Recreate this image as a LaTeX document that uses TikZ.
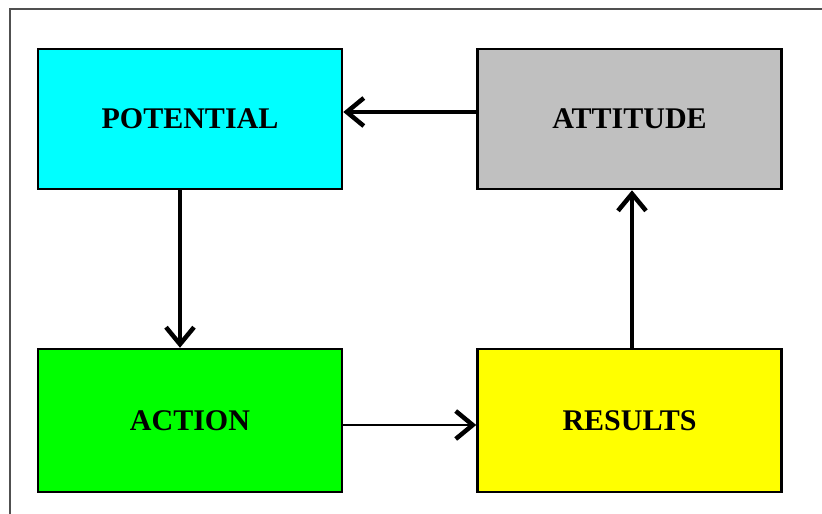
\documentclass[tikz,border=0pt]{standalone}
\usepackage{fontspec}
\setmainfont{Liberation Serif}
\usetikzlibrary{arrows.meta}
\definecolor{potcol}{HTML}{00FFFF}
\definecolor{attcol}{HTML}{C0C0C0}
\definecolor{actcol}{HTML}{00FF00}
\definecolor{rescol}{HTML}{FFFF00}
\definecolor{framecol}{HTML}{505050}
\tikzset{
  stagebox/.style={draw=black, line width=2.5pt, rectangle, minimum width=304pt,
    inner sep=0pt, font=\fontsize{30}{36}\selectfont\bfseries},
  flow/.style={line width=3.2pt, -{Straight Barb[length=17pt,width=28pt,line width=4.5pt]}},
  thinflow/.style={line width=2.2pt, -{Straight Barb[length=17pt,width=28pt,line width=4.5pt]}}
}
\begin{document}
\begin{tikzpicture}[x=1pt,y=-1pt]
\useasboundingbox[fill=white] (0,0) rectangle (822,514);
% outer frame, open to the right and bottom
\draw[framecol, line width=1.3pt] (10,530) -- (10,9) -- (840,9);
% the four stages
\node[stagebox, fill=potcol, minimum height=140pt] (pot) at (190,119) {POTENTIAL};
\node[stagebox, fill=attcol, minimum height=140pt] (att) at (629.5,119) {ATTITUDE};
\node[stagebox, fill=actcol, minimum height=143pt] (act) at (190,420.5) {ACTION};
\node[stagebox, fill=rescol, minimum height=143pt] (res) at (629.5,420.5) {RESULTS};
% connector heights / columns
\coordinate (toprow) at (0,112);
\coordinate (botrow) at (0,425);
\coordinate (leftcol) at (180,0);
\coordinate (rightcol) at (632,0);
% cycle
\draw[flow] (att.west |- toprow) -- (pot.east |- toprow);
\draw[flow] (leftcol |- pot.south) -- (leftcol |- act.north);
\draw[thinflow] (act.east |- botrow) -- (res.west |- botrow);
\draw[flow] (rightcol |- res.north) -- (rightcol |- att.south);
\end{tikzpicture}
\end{document}
